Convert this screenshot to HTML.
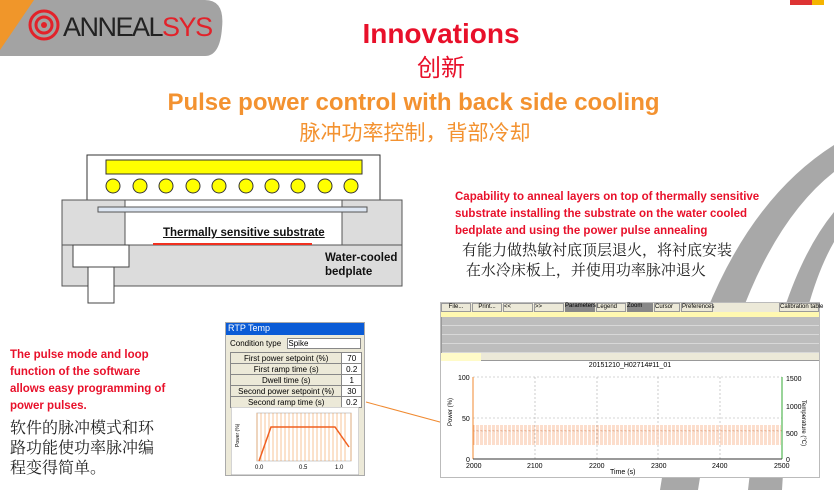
<!DOCTYPE html>
<html><head><meta charset="utf-8"><style>
*{margin:0;padding:0;box-sizing:border-box}
body{width:834px;height:490px;position:relative;overflow:hidden;background:#fff;font-family:"Liberation Sans","Noto Sans CJK SC",sans-serif}
.a{position:absolute;white-space:nowrap}
.r{color:#e8102a;font-weight:bold;font-size:11.5px;line-height:17px}
.cn{color:#222;font-family:"Noto Serif CJK SC","Noto Sans CJK SC",serif;font-size:15px;line-height:20px}
.tb td{border:1px solid #888;padding:0 3px;font-size:8px;height:11px}
</style></head><body>
<svg class="a" style="left:0;top:0" width="834" height="490">
 <path d="M660 490 Q700 230 834 145 L834 172 Q735 250 698 490Z" fill="#a8a8a8"/>
 <path d="M748 490 Q770 290 834 212 L834 242 Q792 315 782 490Z" fill="#a8a8a8"/>
 <path d="M0 0 H205 Q225 0 222 28 Q220 56 205 56 H0Z" fill="#a3a3a3"/>
 <path d="M0 0 H34 L0 50Z" fill="#f0962a"/>
 <circle cx="44" cy="25" r="14" fill="none" stroke="#e2222a" stroke-width="3"/>
 <circle cx="44" cy="25" r="8" fill="none" stroke="#e2222a" stroke-width="3"/>
 <circle cx="44" cy="25" r="3" fill="#e2222a"/>
 <rect x="790" y="0" width="22" height="5" fill="#d33"/><rect x="812" y="0" width="12" height="5" fill="#f5b400"/>
 <rect x="87" y="155" width="293" height="45" fill="#fff" stroke="#333"/>
 <rect x="106" y="160" width="256" height="14" fill="#ff0" stroke="#333"/>
 <g fill="#ff0" stroke="#333"><circle cx="113" cy="186" r="7"/><circle cx="140" cy="186" r="7"/><circle cx="166" cy="186" r="7"/><circle cx="193" cy="186" r="7"/><circle cx="219" cy="186" r="7"/><circle cx="246" cy="186" r="7"/><circle cx="272" cy="186" r="7"/><circle cx="298" cy="186" r="7"/><circle cx="325" cy="186" r="7"/><circle cx="351" cy="186" r="7"/></g>
 <rect x="62" y="200" width="340" height="86" fill="#dcdcdc" stroke="#555"/>
 <rect x="125" y="200" width="217" height="45" fill="#fff" stroke="#555"/>
 <line x1="62" y1="245" x2="402" y2="245" stroke="#555"/>
 <rect x="98" y="207" width="269" height="5" fill="#dde6f2" stroke="#555"/>
 <line x1="153" y1="244" x2="312" y2="244" stroke="#f03020" stroke-width="2"/>
 <rect x="73" y="245" width="56" height="22" fill="#fff" stroke="#444"/>
 <rect x="88" y="267" width="26" height="36" fill="#fff" stroke="#444"/>
 <path d="M366 402 L462 428" stroke="#f08a30" fill="none"/>
 <circle cx="464" cy="432" r="17" fill="none" stroke="#f08a30" stroke-width="1.5"/>
</svg>
<div class="a" style="left:63px;top:12px;font-size:27px;line-height:30px;letter-spacing:-1.5px;color:#222">ANNEAL<span style="color:#e2222a">SYS</span></div>
<div class="a" style="left:0;width:882px;text-align:center;top:18px;line-height:32px;color:#e8102a;font-weight:bold;font-size:28px">Innovations</div>
<div class="a" style="left:0;width:882px;text-align:center;top:54px;line-height:30px;color:#e8102a;font-size:24px">创新</div>
<div class="a" style="left:0;width:827px;text-align:center;top:88px;line-height:30px;color:#f39230;font-weight:bold;font-size:24px">Pulse power control with back side cooling</div>
<div class="a" style="left:0;width:830px;text-align:center;top:119px;line-height:30px;color:#f39230;font-size:21px">脉冲功率控制，背部冷却</div>
<div class="a" style="left:163px;top:227px;font-size:11.5px;font-weight:bold;text-decoration:underline;color:#111">Thermally sensitive substrate</div>
<div class="a" style="left:325px;top:251px;font-size:11.5px;font-weight:bold;color:#111;line-height:14px">Water-cooled<br>bedplate</div>
<div class="a r" style="left:455px;top:189px">Capability to anneal layers on top of thermally sensitive<br>substrate installing the substrate on the water cooled<br>bedplate and using the power pulse annealing</div>
<div class="a cn" style="left:462px;top:240px">有能力做热敏衬底顶层退火，将衬底安装<br>&nbsp;在水冷床板上，并使用功率脉冲退火</div>
<div class="a r" style="left:10px;top:347px">The pulse mode and loop<br>function of the software<br>allows easy programming of<br>power pulses.</div>
<div class="a cn" style="left:10px;top:417px;font-size:16px">软件的脉冲模式和环<br>路功能使功率脉冲编<br>程变得简单。</div>
<div class="a" style="left:225px;top:322px;width:140px;height:154px;background:#ece9d8;border:1px solid #aaa;font-size:8px">
 <div style="background:#0a5bd6;color:#fff;font-size:9px;height:12px;padding-left:2px">RTP Temp</div>
 <div style="margin:3px 4px;height:11px">Condition type <span style="display:inline-block;width:74px;background:#fff;border:1px solid #888;margin-left:4px">Spike</span></div>
 <table class="tb" style="border-collapse:collapse;margin-left:4px;width:132px;background:#ece9d8">
  <tr><td style="text-align:center">First power setpoint (%)</td><td style="background:#fff;text-align:center">70</td></tr>
  <tr><td style="text-align:center">First ramp time (s)</td><td style="background:#fff;text-align:center">0.2</td></tr>
  <tr><td style="text-align:center">Dwell time (s)</td><td style="background:#fff;text-align:center">1</td></tr>
  <tr><td style="text-align:center">Second power setpoint (%)</td><td style="background:#fff;text-align:center">30</td></tr>
  <tr><td style="text-align:center">Second ramp time (s)</td><td style="background:#fff;text-align:center">0.2</td></tr>
 </table>
 <svg style="position:absolute;left:5px;top:84px" width="128" height="68"><rect width="128" height="68" fill="#fff" stroke="#aaa"/>
  <rect x="26" y="6" width="94" height="48" fill="none" stroke="#ccc"/>
  <g stroke="#f08a30" stroke-width="0.5"><path d="M26 6V54M120 6V54M30 6V54M34 6V54M38 6V54M42 6V54M46 6V54M50 6V54M54 6V54M58 6V54M62 6V54M66 6V54M70 6V54M74 6V54M78 6V54M82 6V54M86 6V54M90 6V54M94 6V54M98 6V54M102 6V54M106 6V54M110 6V54M114 6V54"/></g>
  <path d="M28 54 L40 20 L104 20 L118 40" stroke="#f06020" stroke-width="1.5" fill="none"/>
  <text x="8" y="40" font-size="5" transform="rotate(-90 8 40)">Power (%)</text>
  <text x="24" y="62" font-size="6">0.0</text><text x="68" y="62" font-size="6">0.5</text><text x="104" y="62" font-size="6">1.0</text>
 </svg>
</div>
<div class="a" style="left:440px;top:302px;width:380px;height:176px;background:#fff;border:1px solid #bbb;font-size:6px">
 <div style="height:9px;background:#ece9d8;display:flex;gap:1px">
  <span style="width:30px;border:1px solid #999;text-align:center">File...</span><span style="width:30px;border:1px solid #999;text-align:center">Print...</span><span style="width:30px;border:1px solid #999">&lt;&lt;</span><span style="width:30px;border:1px solid #999">&gt;&gt;</span><span style="width:30px;background:#888">Parameters</span><span style="width:30px;border:1px solid #999">Legend</span><span style="width:26px;background:#888">Zoom</span><span style="width:26px;border:1px solid #999">Cursor</span><span style="width:32px;border:1px solid #999">Preferences</span><span style="flex:1"></span><span style="width:40px;border:1px solid #999">Calibration table</span>
 </div>
 <div style="height:5px;background:#fff8b0"></div>
 <div style="height:36px;background:repeating-linear-gradient(#bdbdbd 0 8px,#d8d8d8 8px 9px);border-left:1px solid #999"></div>
 <div style="height:8px;background:#ece9d8;border-bottom:1px solid #999"><span style="display:inline-block;width:40px;height:8px;background:#fffbc8"></span></div>
 <div style="text-align:center;font-size:7px;margin-top:1px">20151210_H02714#11_01</div>
</div>
<svg class="a" style="left:440px;top:370px" width="380" height="108">
 <rect x="33" y="7" width="309" height="82" fill="#fff"/>
 <g stroke="#aaa" stroke-dasharray="2 2" stroke-width="0.6"><path d="M33 7H342M33 48H342M33 61H342M95 7V89M157 7V89M218 7V89M280 7V89"/></g>
 <defs><pattern id="w" width="4" height="30" patternUnits="userSpaceOnUse"><path d="M0 55 V0 H2 V30" stroke="#f5a070" fill="none" stroke-width="0.7"/></pattern></defs>
 <rect x="33" y="55" width="309" height="20" fill="url(#w)"/>
 <line x1="33" y1="7" x2="33" y2="89" stroke="#f08a30"/><line x1="342" y1="7" x2="342" y2="89" stroke="#3a3"/>
 <line x1="33" y1="89" x2="342" y2="89" stroke="#333"/>
 <g font-size="7"><text x="18" y="10">100</text><text x="22" y="51">50</text><text x="26" y="92">0</text>
 <text x="26" y="98">2000</text><text x="87" y="98">2100</text><text x="149" y="98">2200</text><text x="211" y="98">2300</text><text x="272" y="98">2400</text><text x="334" y="98">2500</text>
 <text x="170" y="104">Time (s)</text><text x="346" y="11">1500</text><text x="346" y="39">1000</text><text x="346" y="66">500</text><text x="346" y="92">0</text></g>
 <text x="12" y="56" font-size="6" transform="rotate(-90 12 56)">Power (%)</text>
 <text x="362" y="30" font-size="6" transform="rotate(90 362 30)">Temperature (°C)</text>
</svg>
</body></html>
